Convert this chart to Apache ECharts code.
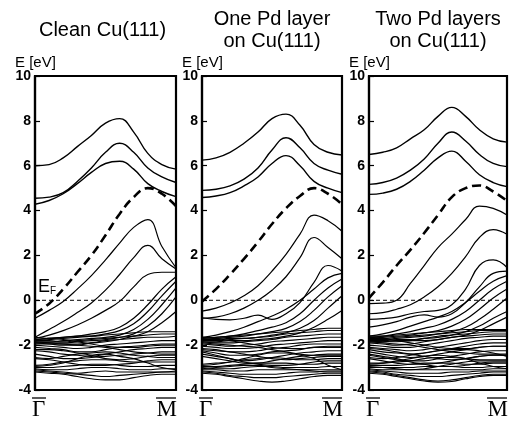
<!DOCTYPE html>
<html><head><meta charset="utf-8">
<script src="https://cdn.jsdelivr.net/npm/echarts@6/dist/echarts.min.js"></script>
<style>html,body{margin:0;padding:0;background:#fff}#c{width:513px;height:424px}</style>
</head><body><div id="c"></div>
<script>
// k-path sample points from Γ (0) to M (1)
const kpoints = [0,0.1,0.2,0.3,0.4,0.5,0.6,0.7,0.8,0.9,1.0];
const yRange = [-4, 10];
const yStep = 2;
const fermiLevel = 0;
const panelTitles = ['Clean Cu(111)', 'One Pd layer\non Cu(111)', 'Two Pd layers\non Cu(111)'];
const yAxisName = 'E [eV]';
const kLabels = ['Γ', 'M'];

// ---- Panel 1: clean Cu(111) ----
const clean_upper = [
  [6.0,6.05,6.35,6.85,7.35,7.9,8.1,7.5,6.55,6.05,5.85],
  [4.55,4.6,4.8,5.3,5.9,6.6,7.0,6.6,5.9,5.5,5.25],
  [4.28,4.45,4.75,5.2,5.7,6.1,6.2,5.85,5.2,4.85,4.62]
];
const clean_surface = [-0.6,-0.15,0.5,1.25,2.0,2.9,3.85,4.6,5.0,4.75,4.2];
const clean_sp = [
  [-0.8,-0.45,-0.05,0.5,1.1,1.8,2.55,3.25,3.6,2.4,1.45],
  [-1.65,-1.3,-0.95,-0.55,-0.12,0.45,1.15,1.9,2.45,1.85,1.4],
  [-1.7,-1.55,-1.35,-1.1,-0.8,-0.45,-0.05,0.6,1.15,1.25,1.25],
  [-1.75,-1.7,-1.65,-1.6,-1.5,-1.4,-1.2,-0.8,-0.2,0.5,1.05],
  [-1.8,-1.75,-1.7,-1.65,-1.6,-1.5,-1.35,-1.05,-0.5,0.2,0.85],
  [-1.85,-1.85,-1.8,-1.75,-1.7,-1.65,-1.55,-1.3,-0.85,-0.2,0.55],
  [-1.9,-1.9,-1.9,-1.85,-1.8,-1.75,-1.65,-1.5,-1.15,-0.6,0.15],
  [-1.95,-1.95,-1.95,-1.95,-1.9,-1.85,-1.75,-1.6,-1.4,-1.0,-0.5]
];
const clean_d = [
  [-1.75,-1.7,-1.65,-1.6,-1.6,-1.55,-1.5,-1.45,-1.4,-1.4,-1.4],
  [-1.8,-1.8,-1.85,-1.8,-1.75,-1.7,-1.65,-1.6,-1.55,-1.5,-1.5],
  [-1.9,-1.95,-2.0,-2.0,-1.9,-1.8,-1.75,-1.7,-1.65,-1.65,-1.6],
  [-2.0,-2.05,-2.1,-2.15,-2.1,-2.0,-1.95,-1.9,-1.85,-1.8,-1.8],
  [-2.1,-2.15,-2.2,-2.3,-2.3,-2.2,-2.1,-2.05,-2.0,-1.95,-1.95],
  [-2.25,-2.3,-2.4,-2.45,-2.5,-2.4,-2.3,-2.2,-2.15,-2.1,-2.1],
  [-2.4,-2.5,-2.6,-2.6,-2.55,-2.5,-2.45,-2.4,-2.35,-2.3,-2.3],
  [-2.55,-2.6,-2.5,-2.4,-2.35,-2.3,-2.35,-2.45,-2.5,-2.55,-2.55],
  [-2.9,-2.85,-2.75,-2.7,-2.65,-2.65,-2.7,-2.75,-2.75,-2.75,-2.75],
  [-3.0,-3.0,-2.95,-2.9,-2.85,-2.85,-2.9,-2.95,-2.95,-2.9,-2.9],
  [-3.05,-3.1,-3.1,-3.05,-3.0,-3.0,-3.05,-3.1,-3.1,-3.05,-3.05],
  [-3.1,-3.15,-3.2,-3.25,-3.2,-3.15,-3.2,-3.2,-3.2,-3.2,-3.15],
  [-3.2,-3.25,-3.3,-3.4,-3.5,-3.55,-3.55,-3.45,-3.35,-3.3,-3.3],
  [-3.15,-3.2,-3.25,-3.3,-3.35,-3.4,-3.35,-3.3,-3.25,-3.2,-3.2],
  [-1.65,-1.7,-1.75,-1.85,-1.95,-2.05,-2.1,-2.1,-2.05,-2.0,-2.0],
  [-2.2,-2.2,-2.25,-2.35,-2.45,-2.6,-2.65,-2.6,-2.5,-2.45,-2.45],
  [-2.6,-2.65,-2.75,-2.85,-2.9,-2.9,-2.85,-2.8,-2.7,-2.65,-2.65],
  [-1.85,-1.9,-1.95,-2.0,-2.05,-2.1,-2.2,-2.3,-2.35,-2.4,-2.4],
  [-2.95,-2.9,-2.8,-2.6,-2.45,-2.4,-2.5,-2.6,-2.8,-3.0,-3.1]
];

// ---- Panel 2: one Pd layer on Cu(111) ----
const onePd_upper = [
  [6.25,6.35,6.6,7.0,7.5,8.1,8.3,7.8,6.95,6.6,6.48],
  [4.9,4.95,5.1,5.4,5.9,6.7,7.25,6.8,6.1,5.8,5.62],
  [4.58,4.65,4.8,5.1,5.5,6.1,6.45,6.0,5.3,5.0,4.8]
];
const onePd_surface = [-0.05,0.5,1.15,1.85,2.6,3.4,4.1,4.65,5.0,4.75,4.28];
const onePd_sp = [
  [-0.48,-0.35,-0.12,0.2,0.65,1.3,2.05,2.95,3.8,3.55,3.08],
  [-0.8,-0.75,-0.6,-0.35,0.0,0.45,1.05,1.9,2.8,2.35,1.85],
  [-0.78,-0.85,-0.87,-0.8,-0.66,-0.85,-0.6,-0.1,0.8,1.55,1.3],
  [-1.65,-1.55,-1.4,-1.2,-0.95,-0.7,-0.4,0.0,0.5,1.0,1.2],
  [-1.7,-1.65,-1.6,-1.5,-1.35,-1.2,-1.0,-0.6,0.0,0.55,0.95],
  [-1.75,-1.7,-1.65,-1.6,-1.5,-1.4,-1.25,-0.95,-0.45,0.15,0.65],
  [-1.8,-1.8,-1.75,-1.7,-1.65,-1.55,-1.45,-1.25,-0.9,-0.35,0.2],
  [-1.85,-1.85,-1.8,-1.8,-1.75,-1.7,-1.6,-1.45,-1.2,-0.85,-0.45]
];
const onePd_d = [
  [-1.7,-1.65,-1.6,-1.55,-1.5,-1.45,-1.4,-1.35,-1.3,-1.25,-1.25],
  [-1.75,-1.75,-1.7,-1.7,-1.65,-1.6,-1.5,-1.45,-1.4,-1.35,-1.35],
  [-1.85,-1.9,-1.9,-1.85,-1.8,-1.75,-1.65,-1.6,-1.55,-1.5,-1.5],
  [-1.95,-2.0,-2.05,-2.0,-1.95,-1.85,-1.8,-1.75,-1.7,-1.65,-1.65],
  [-2.05,-2.1,-2.15,-2.15,-2.1,-2.0,-1.95,-1.9,-1.85,-1.8,-1.8],
  [-2.15,-2.2,-2.3,-2.3,-2.25,-2.15,-2.1,-2.0,-1.95,-1.95,-1.95],
  [-2.25,-2.35,-2.45,-2.45,-2.4,-2.3,-2.25,-2.2,-2.1,-2.1,-2.1],
  [-2.3,-2.45,-2.6,-2.7,-2.65,-2.55,-2.45,-2.35,-2.3,-2.25,-2.25],
  [-2.5,-2.6,-2.7,-2.8,-2.8,-2.7,-2.6,-2.5,-2.45,-2.4,-2.4],
  [-2.85,-2.8,-2.75,-2.65,-2.6,-2.55,-2.6,-2.65,-2.65,-2.6,-2.6],
  [-2.95,-2.95,-2.9,-2.85,-2.8,-2.8,-2.8,-2.85,-2.85,-2.8,-2.8],
  [-3.0,-3.05,-3.05,-3.0,-2.95,-2.95,-3.0,-3.0,-3.0,-2.95,-2.95],
  [-3.1,-3.1,-3.15,-3.15,-3.1,-3.1,-3.1,-3.1,-3.1,-3.1,-3.1],
  [-3.15,-3.2,-3.25,-3.3,-3.3,-3.3,-3.25,-3.2,-3.2,-3.15,-3.15],
  [-3.25,-3.3,-3.4,-3.5,-3.6,-3.65,-3.6,-3.5,-3.4,-3.35,-3.35],
  [-3.2,-3.25,-3.35,-3.4,-3.45,-3.45,-3.4,-3.35,-3.3,-3.25,-3.25],
  [-1.65,-1.7,-1.8,-1.9,-2.0,-2.1,-2.15,-2.15,-2.1,-2.05,-2.05],
  [-2.2,-2.25,-2.3,-2.4,-2.5,-2.6,-2.65,-2.6,-2.55,-2.5,-2.5],
  [-2.4,-2.5,-2.6,-2.75,-2.85,-2.9,-2.9,-2.85,-2.75,-2.7,-2.7],
  [-1.9,-1.95,-2.0,-2.05,-2.1,-2.2,-2.3,-2.4,-2.45,-2.45,-2.45],
  [-2.9,-2.85,-2.75,-2.6,-2.45,-2.35,-2.35,-2.45,-2.6,-2.9,-3.1],
  [-3.05,-3.0,-2.95,-2.9,-2.9,-3.0,-3.05,-3.1,-3.15,-3.2,-3.2]
];

// ---- Panel 3: two Pd layers on Cu(111) ----
const twoPd_upper = [
  [6.5,6.6,6.8,7.2,7.6,8.2,8.6,8.2,7.6,7.2,7.05],
  [5.17,5.25,5.45,5.8,6.3,7.0,7.5,7.1,6.5,6.1,5.96],
  [4.72,4.78,4.95,5.3,5.8,6.35,6.65,6.2,5.6,5.25,5.07]
];
const twoPd_surface = [0.1,0.8,1.55,2.25,3.0,3.8,4.6,5.0,5.12,4.85,4.43];
const twoPd_sp = [
  [-0.15,-0.13,0.0,0.75,1.55,2.35,2.95,3.6,4.2,4.1,3.8],
  [-0.6,-0.55,-0.4,-0.2,0.15,0.6,1.2,1.95,2.8,3.15,2.94],
  [-0.85,-0.82,-0.75,-0.6,-0.5,-0.45,-0.2,0.5,1.55,1.8,1.46],
  [-1.2,-1.1,-0.95,-0.75,-0.65,-0.75,-0.6,-0.1,0.6,1.2,1.3],
  [-1.6,-1.5,-1.35,-1.15,-0.95,-0.75,-0.5,-0.1,0.4,0.85,1.1],
  [-1.65,-1.6,-1.5,-1.4,-1.25,-1.1,-0.85,-0.5,0.0,0.5,0.85],
  [-1.7,-1.65,-1.6,-1.55,-1.45,-1.35,-1.15,-0.85,-0.4,0.1,0.5],
  [-1.75,-1.75,-1.7,-1.65,-1.6,-1.5,-1.4,-1.2,-0.85,-0.4,0.1],
  [-1.8,-1.8,-1.75,-1.75,-1.7,-1.65,-1.55,-1.4,-1.15,-0.8,-0.5],
  [-1.85,-1.85,-1.8,-1.8,-1.8,-1.75,-1.65,-1.55,-1.35,-1.05,-0.75]
];
const twoPd_d = [
  [-1.6,-1.6,-1.55,-1.5,-1.45,-1.4,-1.35,-1.3,-1.3,-1.3,-1.3],
  [-1.7,-1.7,-1.65,-1.6,-1.55,-1.5,-1.45,-1.4,-1.35,-1.35,-1.35],
  [-1.8,-1.85,-1.85,-1.8,-1.7,-1.6,-1.55,-1.5,-1.45,-1.4,-1.4],
  [-1.9,-1.95,-2.0,-1.95,-1.85,-1.75,-1.65,-1.6,-1.55,-1.5,-1.5],
  [-2.0,-2.05,-2.1,-2.1,-2.0,-1.9,-1.8,-1.7,-1.65,-1.6,-1.6],
  [-2.1,-2.15,-2.2,-2.25,-2.2,-2.1,-2.0,-1.9,-1.8,-1.75,-1.75],
  [-2.2,-2.3,-2.35,-2.4,-2.35,-2.25,-2.15,-2.05,-1.95,-1.9,-1.9],
  [-2.3,-2.4,-2.5,-2.55,-2.5,-2.4,-2.3,-2.2,-2.1,-2.05,-2.05],
  [-2.45,-2.55,-2.65,-2.7,-2.7,-2.6,-2.5,-2.4,-2.3,-2.25,-2.25],
  [-2.6,-2.7,-2.8,-2.85,-2.85,-2.8,-2.7,-2.6,-2.5,-2.45,-2.45],
  [-2.8,-2.8,-2.75,-2.7,-2.6,-2.55,-2.55,-2.6,-2.65,-2.65,-2.65],
  [-2.9,-2.9,-2.9,-2.85,-2.8,-2.8,-2.8,-2.85,-2.85,-2.8,-2.8],
  [-3.0,-3.0,-3.0,-3.0,-2.95,-2.95,-2.95,-3.0,-3.0,-2.95,-2.95],
  [-3.05,-3.1,-3.1,-3.1,-3.1,-3.1,-3.1,-3.1,-3.1,-3.05,-3.05],
  [-3.1,-3.15,-3.2,-3.25,-3.25,-3.25,-3.2,-3.2,-3.15,-3.15,-3.15],
  [-3.2,-3.25,-3.35,-3.45,-3.55,-3.6,-3.55,-3.45,-3.35,-3.3,-3.3],
  [-3.15,-3.2,-3.3,-3.35,-3.4,-3.4,-3.35,-3.3,-3.25,-3.2,-3.2],
  [-3.25,-3.3,-3.4,-3.5,-3.6,-3.65,-3.62,-3.5,-3.4,-3.35,-3.35],
  [-1.65,-1.7,-1.8,-1.9,-2.0,-2.1,-2.15,-2.15,-2.1,-2.05,-2.05],
  [-2.15,-2.2,-2.3,-2.4,-2.5,-2.6,-2.65,-2.6,-2.5,-2.45,-2.45],
  [-2.4,-2.5,-2.6,-2.75,-2.85,-2.95,-2.95,-2.9,-2.8,-2.75,-2.75],
  [-1.85,-1.9,-1.95,-2.0,-2.1,-2.2,-2.3,-2.35,-2.4,-2.4,-2.4],
  [-2.55,-2.6,-2.55,-2.45,-2.35,-2.25,-2.2,-2.2,-2.25,-2.35,-2.5],
  [-2.85,-2.8,-2.7,-2.6,-2.5,-2.45,-2.5,-2.6,-2.8,-2.95,-3.05],
  [-2.95,-3.0,-3.05,-3.1,-3.05,-2.95,-2.85,-2.75,-2.7,-2.7,-2.7]
];

const panels = [
  {upper: clean_upper, surface: clean_surface, sp: clean_sp, d: clean_d},
  {upper: onePd_upper, surface: onePd_surface, sp: onePd_sp, d: onePd_d},
  {upper: twoPd_upper, surface: twoPd_surface, sp: twoPd_sp, d: twoPd_d}
];

// ---- layout ----
const gridBoxes = [
  {left: 35, top: 76, width: 141, height: 314},
  {left: 202, top: 76, width: 140, height: 314},
  {left: 369, top: 76, width: 138, height: 314}
];
const SANS = '"Liberation Sans", Arial, Helvetica, sans-serif';
const SERIF = '"Liberation Serif", "Times New Roman", serif';

function pairs(band) { return kpoints.map((k, i) => [k, band[i]]); }

const grid = [], xAxis = [], yAxis = [], series = [], graphic = [];
panels.forEach((p, i) => {
  const g = gridBoxes[i];
  grid.push(Object.assign({show: true, borderColor: '#000', borderWidth: 2.2, backgroundColor: 'transparent', containLabel: false, outerBoundsMode: 'none'}, g));
  xAxis.push({type: 'value', gridIndex: i, min: 0, max: 1,
    axisLine: {show: true, onZero: false, lineStyle: {color: '#000', width: 2.2}},
    axisTick: {show: false}, axisLabel: {show: false}, splitLine: {show: false}});
  yAxis.push({type: 'value', gridIndex: i, min: yRange[0], max: yRange[1], interval: yStep,
    axisLine: {show: true, onZero: false, lineStyle: {color: '#000', width: 2.2}},
    axisTick: {show: true, inside: true, length: 5, lineStyle: {color: '#000', width: 1.2}},
    axisLabel: {color: '#000', fontWeight: 'bold', fontSize: 14, fontFamily: SANS, margin: 4},
    splitLine: {show: false}});
  const common = {type: 'line', xAxisIndex: i, yAxisIndex: i, symbol: 'none', showSymbol: false,
    silent: true, animation: false, smooth: 0.45, z: 3};
  p.d.forEach(b => series.push(Object.assign({}, common, {data: pairs(b), lineStyle: {color: '#000', width: 1.1}})));
  p.sp.forEach(b => series.push(Object.assign({}, common, {data: pairs(b), lineStyle: {color: '#000', width: 1.2}})));
  p.upper.forEach(b => series.push(Object.assign({}, common, {data: pairs(b), lineStyle: {color: '#000', width: 1.4}})));
  series.push(Object.assign({}, common, {data: pairs(p.surface), lineStyle: {color: '#000', width: 2.6, type: [9, 5]}, z: 4}));
  series.push(Object.assign({}, common, {smooth: false, data: [[0, fermiLevel], [1, fermiLevel]], lineStyle: {color: '#000', width: 1, type: [4, 3]}}));

  // titles
  const cx = g.left + g.width / 2;
  const lines = panelTitles[i].split('\n');
  if (lines.length === 1) {
    graphic.push({type: 'text', x: cx - 3, y: 30, style: {text: lines[0], font: '20px ' + SANS, fill: '#000', align: 'center', verticalAlign: 'middle'}});
  } else {
    graphic.push({type: 'text', x: cx, y: 19, style: {text: lines[0], font: '20px ' + SANS, fill: '#000', align: 'center', verticalAlign: 'middle'}});
    graphic.push({type: 'text', x: cx, y: 41, style: {text: lines[1], font: '20px ' + SANS, fill: '#000', align: 'center', verticalAlign: 'middle'}});
  }
  graphic.push({type: 'text', x: g.left - 20, y: 63, style: {text: yAxisName, font: '15px ' + SANS, fill: '#000', align: 'left', verticalAlign: 'middle'}});
  // k-point labels with overline
  const right = g.left + g.width;
  graphic.push({type: 'text', x: g.left - 3, y: 421, style: {text: kLabels[0], font: '23px ' + SERIF, fill: '#000', align: 'left', verticalAlign: 'bottom'}});
  graphic.push({type: 'line', shape: {x1: g.left - 3, y1: 398, x2: g.left + 11, y2: 398}, style: {stroke: '#000', lineWidth: 1.3}});
  graphic.push({type: 'text', x: right + 1, y: 421, style: {text: kLabels[1], font: '23px ' + SERIF, fill: '#000', align: 'right', verticalAlign: 'bottom'}});
  graphic.push({type: 'line', shape: {x1: right - 20, y1: 398, x2: right, y2: 398}, style: {stroke: '#000', lineWidth: 1.3}});
});
// E_F label (first panel only)
graphic.push({type: 'text', x: 38, y: 296, style: {text: '{e|E}{f|F}', rich: {e: {font: '18px ' + SANS, fill: '#000', verticalAlign: 'bottom'}, f: {font: '10px ' + SANS, fill: '#000', verticalAlign: 'bottom'}}, verticalAlign: 'bottom'}});

const chart = echarts.init(document.getElementById('c'), null, {renderer: 'canvas'});
chart.setOption({backgroundColor: '#fff', animation: false, grid, xAxis, yAxis, series, graphic});
</script></body></html>
